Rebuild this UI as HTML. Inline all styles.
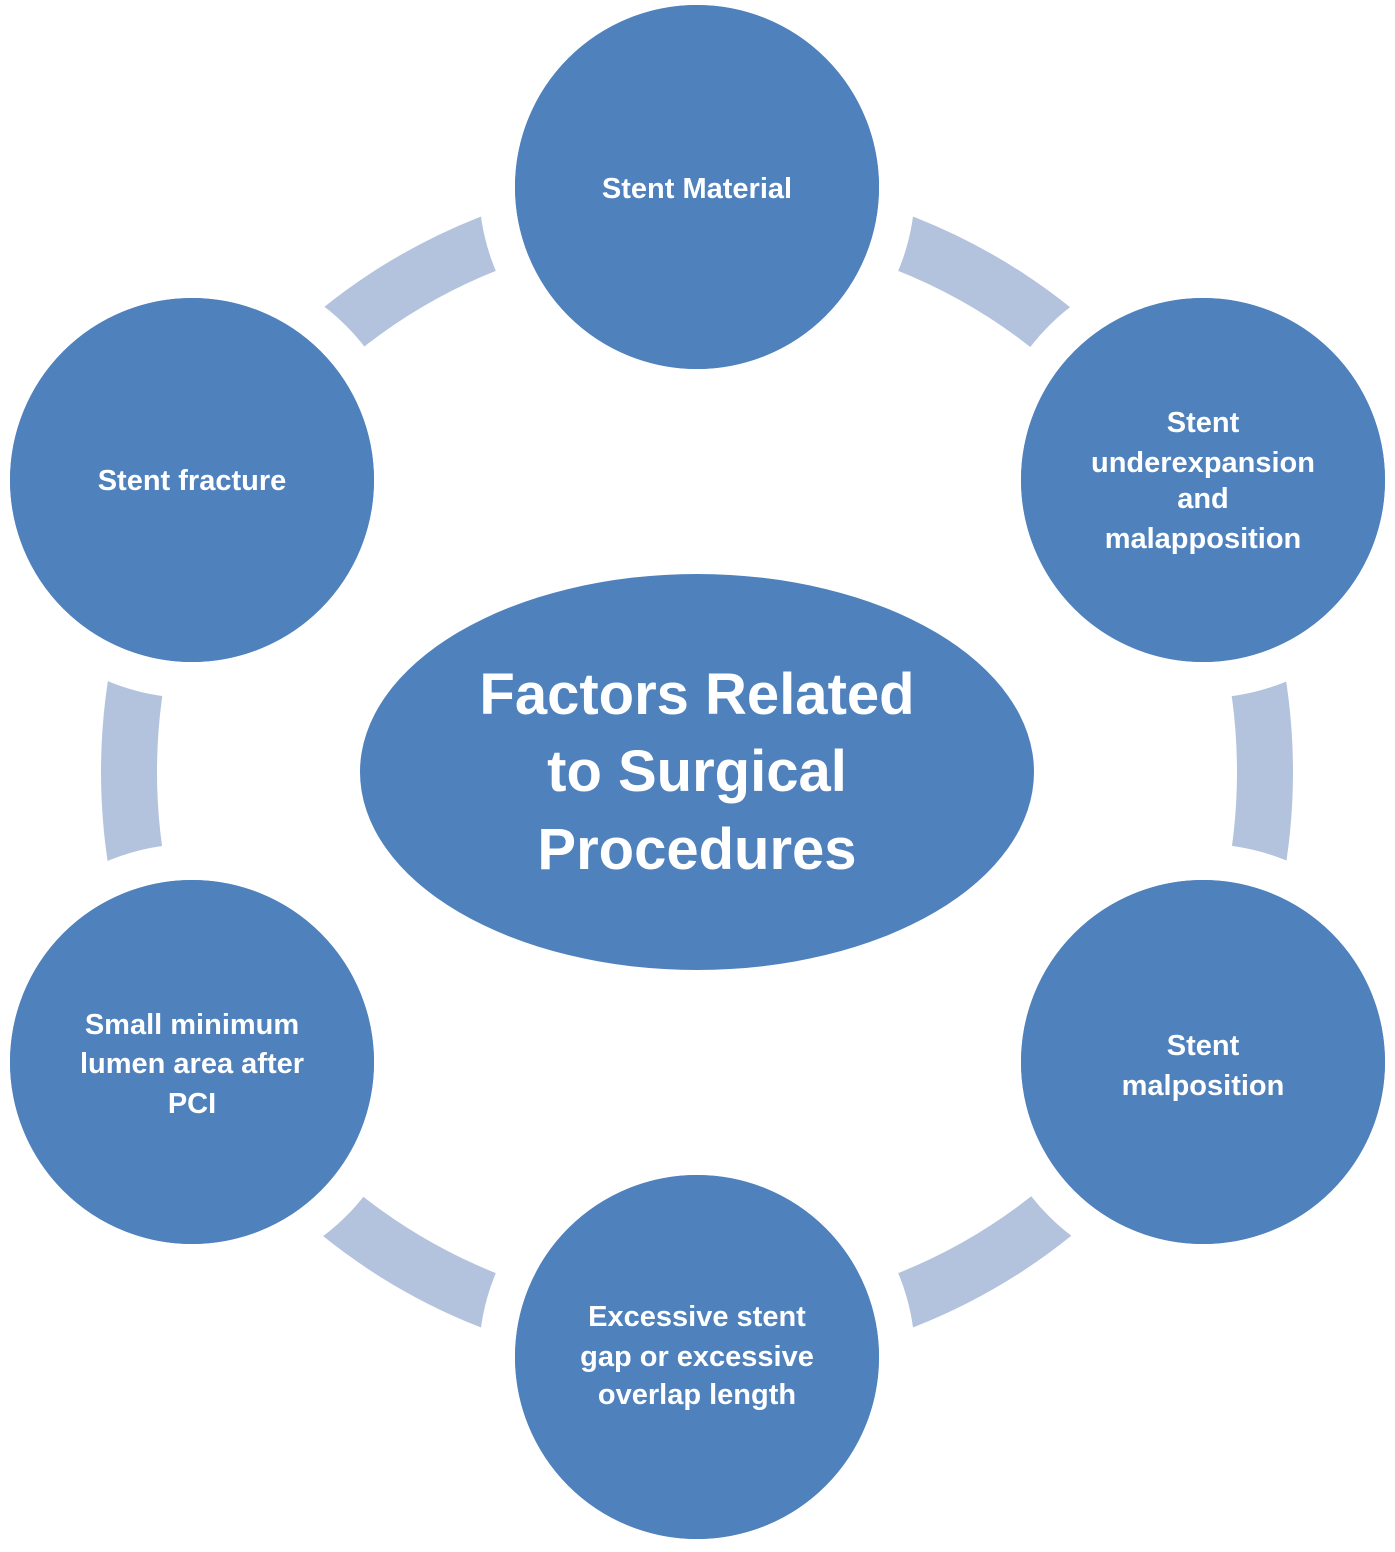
<!DOCTYPE html>
<html><head><style>body{margin:0;background:#fff}</style></head><body>
<svg width="1395" height="1547" viewBox="0 0 1395 1547" xmlns="http://www.w3.org/2000/svg" font-family="Liberation Sans, sans-serif" font-weight="bold" fill="#fff">
<circle cx="697" cy="772" r="568" fill="none" stroke="#b3c3de" stroke-width="56"/>
<g fill="#4f81bd" stroke="#fff" stroke-width="36">
<circle cx="697" cy="187" r="200"/>
<circle cx="1203" cy="480" r="200"/>
<circle cx="1203" cy="1062" r="200"/>
<circle cx="697" cy="1357" r="200"/>
<circle cx="192" cy="1062" r="200"/>
<circle cx="192" cy="480" r="200"/>
</g>
<g fill="#4f81bd">
<circle cx="697" cy="187" r="182"/>
<circle cx="1203" cy="480" r="182"/>
<circle cx="1203" cy="1062" r="182"/>
<circle cx="697" cy="1357" r="182"/>
<circle cx="192" cy="1062" r="182"/>
<circle cx="192" cy="480" r="182"/>
<ellipse cx="697" cy="772" rx="337" ry="198"/>
</g>
<g font-size="29" text-anchor="middle" fill="#fff">
<text x="697" y="198">Stent Material</text>
<text x="1203" y="432">Stent</text>
<text x="1203" y="472">underexpansion</text>
<text x="1203" y="508">and</text>
<text x="1203" y="548">malapposition</text>
<text x="1203" y="1055">Stent</text>
<text x="1203" y="1095">malposition</text>
<text x="697" y="1326">Excessive stent</text>
<text x="697" y="1366">gap or excessive</text>
<text x="697" y="1404">overlap length</text>
<text x="192" y="1034">Small minimum</text>
<text x="192" y="1073">lumen area after</text>
<text x="192" y="1113">PCI</text>
<text x="192" y="490">Stent fracture</text>
</g>
<g font-size="58" text-anchor="middle" fill="#fff">
<text x="697" y="714">Factors Related</text>
<text x="697" y="791">to Surgical</text>
<text x="697" y="869">Procedures</text>
</g>
</svg>
</body></html>
